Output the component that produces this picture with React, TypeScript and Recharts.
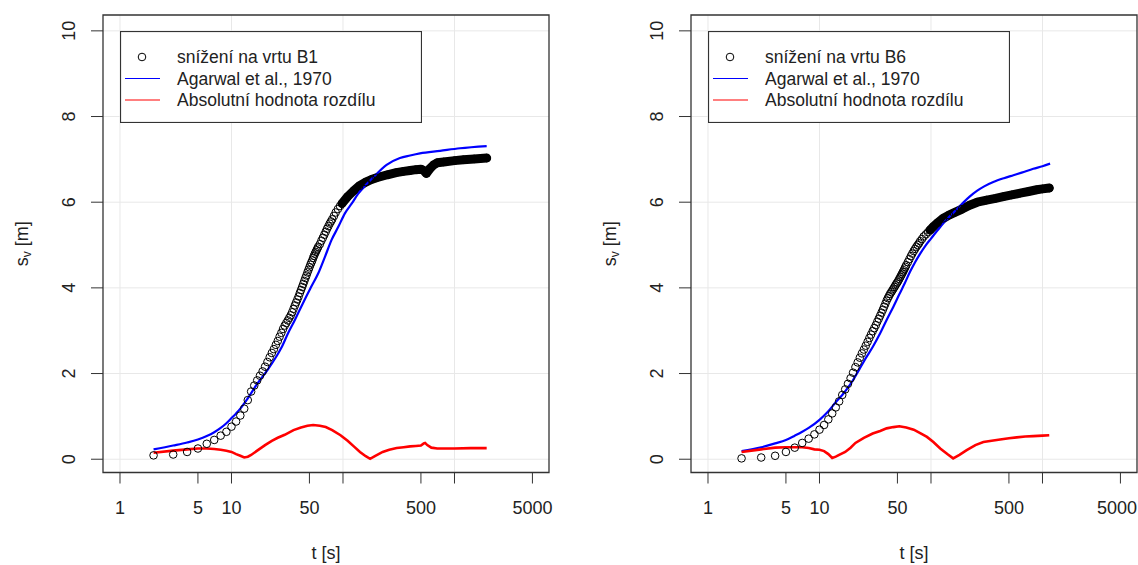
import React from "react";
import {
  ComposedChart,
  Line,
  Scatter,
  XAxis,
  YAxis,
  CartesianGrid,
  ReferenceArea,
  Legend,
} from "recharts";

// axes
const xTicks = [1, 5, 10, 50, 100, 500, 1000, 5000];
const xUnlabeled = [100, 1000];
const xGridLines = [1, 10, 100, 1000];
const yTicks = [0, 2, 4, 6, 8, 10];

// B1 - observed drawdown (circles), dense part drawn as a band from t >= 98
const b1ObsT = [
  2, 3, 4, 5, 6, 7, 8, 9, 10, 11, 12, 13, 14, 15, 16, 17, 18, 19, 20, 21, 22, 23, 24, 25, 26, 27, 28, 29, 30,
  31, 32, 33, 34, 35, 36, 37, 38, 39, 40, 41, 42, 43, 44, 45, 46, 47, 48, 49, 50, 51, 52, 53, 54, 55, 56, 57,
  58, 59, 60, 62, 64, 66, 68, 70, 72, 74, 76, 78, 80, 83, 86, 90, 94, 98, 110, 125, 140, 160, 180, 200, 250,
  300, 350, 400, 450, 500, 530, 560, 600, 650, 700, 800, 1000, 1200, 1500, 1944,
];
const b1ObsS = [
  0.09, 0.11, 0.17, 0.25, 0.36, 0.45, 0.55, 0.64, 0.76, 0.88, 1.02, 1.18, 1.38, 1.58, 1.72, 1.84, 1.95, 2.05,
  2.16, 2.27, 2.38, 2.48, 2.57, 2.67, 2.76, 2.86, 2.95, 3.04, 3.12, 3.18, 3.24, 3.3, 3.36, 3.43, 3.51, 3.59,
  3.66, 3.73, 3.8, 3.88, 3.95, 4.02, 4.09, 4.16, 4.23, 4.29, 4.36, 4.42, 4.48, 4.54, 4.59, 4.64, 4.7, 4.75,
  4.8, 4.84, 4.88, 4.92, 4.96, 5.02, 5.1, 5.17, 5.24, 5.31, 5.38, 5.44, 5.5, 5.55, 5.6, 5.68, 5.76, 5.84,
  5.91, 5.97, 6.13, 6.27, 6.38, 6.47, 6.53, 6.57, 6.64, 6.69, 6.72, 6.74, 6.76, 6.77, 6.74, 6.67, 6.78,
  6.87, 6.92, 6.94, 6.97, 6.99, 7.01, 7.03,
];
// B1 - Agarwal et al., 1970
const b1ModT = [2, 3, 4, 5, 6, 7, 8, 9, 10, 11, 12, 14, 17, 21, 25, 28, 32, 37, 42, 46, 52, 60, 69, 79, 91, 104, 120, 137, 160, 190, 246, 324, 400, 490, 743, 1120, 1944];
const b1ModS = [0.23, 0.32, 0.39, 0.46, 0.54, 0.63, 0.73, 0.84, 0.96, 1.07, 1.18, 1.42, 1.76, 2.08, 2.38, 2.6, 2.93, 3.25, 3.55, 3.76, 4.03, 4.34, 4.73, 5.12, 5.43, 5.74, 5.97, 6.2, 6.4, 6.6, 6.87, 7.03, 7.09, 7.14, 7.2, 7.26, 7.31];
// B1 - absolute difference
const b1DiffT = [2, 3, 4, 5, 6, 7, 8, 9, 10, 11, 12, 13, 14, 15, 17, 20, 23, 26, 30, 36, 42, 48, 54, 62, 70, 80, 95, 110, 125, 142, 160, 175, 195, 227, 260, 303, 350, 400, 450, 500, 530, 545, 570, 620, 700, 850, 1000, 1400, 1944];
const b1DiffS = [0.15, 0.2, 0.23, 0.25, 0.25, 0.24, 0.22, 0.2, 0.17, 0.12, 0.08, 0.04, 0.06, 0.1, 0.2, 0.33, 0.43, 0.5, 0.57, 0.68, 0.74, 0.78, 0.8, 0.78, 0.75, 0.68, 0.56, 0.43, 0.3, 0.17, 0.07, 0.01, 0.08, 0.17, 0.22, 0.26, 0.28, 0.3, 0.31, 0.32, 0.37, 0.38, 0.33, 0.27, 0.25, 0.25, 0.25, 0.26, 0.26];

// B6 - observed drawdown
const b6ObsT = [
  2, 3, 4, 5, 6, 7, 8, 9, 10, 11, 12, 13, 14, 15, 16, 17, 18, 19, 20, 21, 22, 23, 24, 25, 26, 27, 28, 29, 30,
  31, 32, 33, 34, 35, 36, 37, 38, 39, 40, 41, 42, 43, 44, 45, 46, 47, 48, 49, 50, 51, 52, 53, 54, 55, 56, 57,
  58, 59, 60, 62, 64, 66, 68, 70, 72, 74, 76, 78, 80, 83, 86, 90, 94, 98, 105, 115, 128, 145, 160, 190, 222,
  260, 316, 380, 445, 530, 630, 750, 888, 1000, 1150,
];
const b6ObsS = [
  0.02, 0.04, 0.08, 0.17, 0.27, 0.38, 0.48, 0.58, 0.69, 0.8, 0.93, 1.07, 1.21, 1.35, 1.5, 1.63, 1.76, 1.89,
  2.02, 2.15, 2.26, 2.37, 2.47, 2.56, 2.65, 2.74, 2.83, 2.91, 2.99, 3.06, 3.13, 3.21, 3.28, 3.35, 3.42, 3.49,
  3.56, 3.63, 3.7, 3.76, 3.81, 3.86, 3.9, 3.94, 3.98, 4.02, 4.06, 4.1, 4.13, 4.17, 4.21, 4.25, 4.29, 4.33,
  4.37, 4.41, 4.45, 4.49, 4.53, 4.6, 4.67, 4.74, 4.8, 4.86, 4.91, 4.96, 5.0, 5.04, 5.09, 5.14, 5.2, 5.25,
  5.3, 5.35, 5.43, 5.52, 5.62, 5.7, 5.75, 5.84, 5.93, 6.0, 6.05, 6.09, 6.13, 6.17, 6.21, 6.25, 6.29, 6.31,
  6.33,
];
const b6ModT = [2, 3, 4, 5, 6, 7, 8, 10, 12, 14, 16, 18, 20, 23, 26, 30, 35, 40, 46, 52, 58, 65, 72, 80, 90, 100, 115, 130, 158, 180, 200, 222, 260, 300, 362, 450, 548, 650, 827, 1000, 1170];
const b6ModS = [0.19, 0.28, 0.37, 0.45, 0.55, 0.64, 0.73, 0.92, 1.12, 1.33, 1.5, 1.67, 1.85, 2.12, 2.36, 2.62, 2.94, 3.25, 3.56, 3.85, 4.1, 4.38, 4.6, 4.8, 5.0, 5.15, 5.35, 5.52, 5.75, 5.9, 6.02, 6.13, 6.27, 6.37, 6.47, 6.56, 6.63, 6.69, 6.78, 6.84, 6.9];
const b6DiffT = [2, 3, 4, 5, 6, 7, 8, 9, 10, 11, 12, 13, 14, 15, 17, 19, 21, 25, 30, 35, 40, 46, 52, 60, 70, 80, 92, 105, 121, 140, 158, 180, 209, 250, 295, 350, 417, 500, 587, 700, 826, 1000, 1150];
const b6DiffS = [0.17, 0.23, 0.27, 0.28, 0.28, 0.28, 0.26, 0.23, 0.22, 0.19, 0.12, 0.03, 0.06, 0.1, 0.17, 0.27, 0.38, 0.5, 0.6, 0.66, 0.72, 0.75, 0.77, 0.74, 0.69, 0.61, 0.52, 0.4, 0.25, 0.12, 0.02, 0.1, 0.21, 0.33, 0.4, 0.43, 0.46, 0.49, 0.51, 0.53, 0.54, 0.55, 0.56];

const BAND_FROM = 98;

const zip = (t: number[], s: number[]) => t.map((v, i) => ({ t: v, s: s[i] }));

const FONT = '"Liberation Sans", Arial, sans-serif';
const H = 565;
const LEFT = 103;
const TOP = 15;
const PW = 446;
const PH = 457.5;
const YAXIS_W = 60;
const XAXIS_H = 60;
const X_DOMAIN: [number, number] = [0.704, 7040];
const Y_DOMAIN: [number, number] = [-0.31, 10.37];
const INK = "#222";

const XTick = (props: any) => {
  const { x, payload, maxX } = props;
  if (xUnlabeled.includes(payload.value)) return <g />;
  // keep the last label inside the svg edge
  const cx = Math.min(x, maxX - 21);
  return (
    <text x={cx} y={TOP + PH + 35} textAnchor="middle" dominantBaseline="central" fontSize={18} fill={INK} fontFamily={FONT}>
      {payload.value}
    </text>
  );
};

const YTick = (props: any) => {
  const { y, payload } = props;
  return (
    <text
      transform={`translate(${LEFT - 34},${y}) rotate(-90)`}
      textAnchor="middle"
      dominantBaseline="central"
      fontSize={18}
      fill={INK}
      fontFamily={FONT}
    >
      {payload.value}
    </text>
  );
};

const Circle = (props: any) => (
  <circle cx={props.cx} cy={props.cy} r={3.8} fill="none" stroke="#000" strokeWidth={1} />
);

const LegendBox = ({ label }: { label: string }) => (
  <svg width={302} height={92} style={{ display: "block" }}>
    <rect x={0.5} y={0.5} width={301} height={91} fill="#fff" stroke="#333" strokeWidth={1.2} />
    <circle cx={22} cy={26} r={3.8} fill="none" stroke="#000" />
    <line x1={5} x2={40} y1={47.5} y2={47.5} stroke="#0000ff" strokeWidth={1.2} />
    <line x1={5} x2={40} y1={69} y2={69} stroke="#ff0000" strokeWidth={1.2} />
    <g fontFamily={FONT} fontSize={17.5} fill={INK}>
      <text x={57} y={26} dominantBaseline="central">{label}</text>
      <text x={57} y={47.5} dominantBaseline="central">Agarwal et al., 1970</text>
      <text x={57} y={69} dominantBaseline="central">Absolutní hodnota rozdílu</text>
    </g>
  </svg>
);

interface PanelProps {
  width: number;
  label: string;
  obs: { t: number; s: number }[];
  model: { t: number; s: number }[];
  diff: { t: number; s: number }[];
}

const Panel: React.FC<PanelProps> = ({ width, label, obs, model, diff }) => {
  const band = obs.filter((d) => d.t >= BAND_FROM);
  return (
    <ComposedChart
      width={width}
      height={H}
      margin={{ top: TOP, left: LEFT - YAXIS_W, right: width - LEFT - PW, bottom: H - TOP - PH - XAXIS_H }}
    >
      <CartesianGrid
        verticalValues={xGridLines}
        horizontalValues={yTicks}
        stroke="#e8e8e8"
        strokeWidth={1}
      />
      <XAxis
        dataKey="t"
        type="number"
        scale="log"
        domain={X_DOMAIN}
        allowDataOverflow
        ticks={xTicks}
        interval={0}
        height={XAXIS_H}
        axisLine={false}
        tickSize={11}
        tickLine={{ stroke: "#333" }}
        tick={<XTick maxX={width} />}
        label={() => (
          <text x={LEFT + PW / 2} y={553} textAnchor="middle" dominantBaseline="central" fontSize={18} fill={INK} fontFamily={FONT}>
            t [s]
          </text>
        )}
      />
      <YAxis
        dataKey="s"
        type="number"
        domain={Y_DOMAIN}
        allowDataOverflow
        ticks={yTicks}
        interval={0}
        width={YAXIS_W}
        axisLine={false}
        tickSize={12}
        tickLine={{ stroke: "#333" }}
        tick={<YTick />}
        label={() => (
          <text
            transform={`translate(22,${TOP + PH / 2}) rotate(-90)`}
            textAnchor="middle"
            dominantBaseline="central"
            fontSize={18}
            fill={INK}
            fontFamily={FONT}
          >
            s
            <tspan fontSize={12} dy={5}>v</tspan>
            <tspan dy={-5}> [m]</tspan>
          </text>
        )}
      />
      <Line
        data={band}
        dataKey="s"
        type="linear"
        stroke="#000"
        strokeWidth={9}
        strokeLinecap="round"
        strokeLinejoin="round"
        dot={false}
        activeDot={false}
        isAnimationActive={false}
      />
      <Scatter data={obs} dataKey="s" shape={<Circle />} isAnimationActive={false} />
      <Line data={model} dataKey="s" type="monotone" stroke="#0000ff" strokeWidth={2.2} dot={false} activeDot={false} isAnimationActive={false} />
      <Line data={diff} dataKey="s" type="linear" stroke="#ff0000" strokeWidth={2.6} dot={false} activeDot={false} isAnimationActive={false} />
      <ReferenceArea
        x1={X_DOMAIN[0]}
        x2={X_DOMAIN[1]}
        y1={Y_DOMAIN[0]}
        y2={Y_DOMAIN[1]}
        fill="none"
        fillOpacity={0}
        stroke="#333"
        strokeWidth={1.3}
        ifOverflow="visible"
      />
      <Legend
        layout="vertical"
        align="center"
        verticalAlign="middle"
        wrapperStyle={{ left: 120, top: 31, width: 302, height: 92 }}
        content={() => <LegendBox label={label} />}
      />
    </ComposedChart>
  );
};

export default function App() {
  return (
    <div
      style={{
        position: "absolute",
        left: 0,
        top: 0,
        width: 1138,
        height: 565,
        background: "#fff",
        overflow: "hidden",
      }}
    >
      <div style={{ position: "absolute", left: 0, top: 0 }}>
        <Panel width={588} label="snížení na vrtu B1" obs={zip(b1ObsT, b1ObsS)} model={zip(b1ModT, b1ModS)} diff={zip(b1DiffT, b1DiffS)} />
      </div>
      <div style={{ position: "absolute", left: 588, top: 0 }}>
        <Panel width={550} label="snížení na vrtu B6" obs={zip(b6ObsT, b6ObsS)} model={zip(b6ModT, b6ModS)} diff={zip(b6DiffT, b6DiffS)} />
      </div>
    </div>
  );
}
